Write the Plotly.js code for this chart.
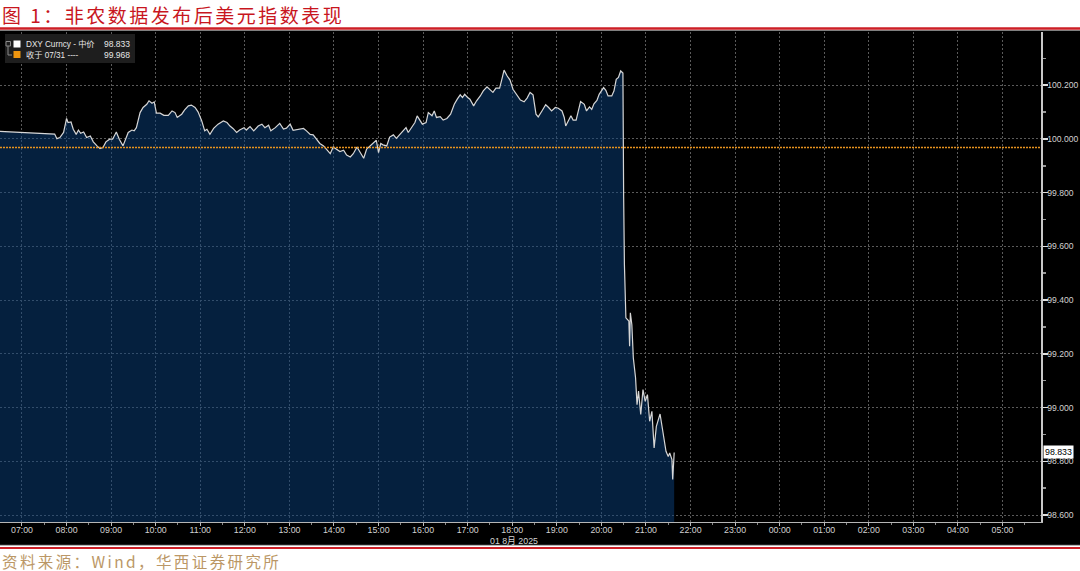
<!DOCTYPE html>
<html>
<head>
<meta charset="utf-8">
<script src="https://cdn.plot.ly/plotly-3.0.1.min.js"></script>
<style>
  html, body { margin: 0; padding: 0; background: #ffffff; }
  #chart { width: 1080px; height: 571px; }
  #chart .annotation[data-index="0"] text { letter-spacing: 2.5px; }
  #chart .annotation[data-index="1"] text { letter-spacing: 2.4px; }
</style>
</head>
<body>
<div id="chart"></div>
<script>
// ---------------- DATA ----------------
const tradeDate = '2025-08-01';
const times = [
  '06:30','07:44','07:47','07:51','07:56','08:00','08:02','08:06','08:09','08:13',
  '08:16','08:19','08:23','08:27','08:32','08:36','08:41','08:45','08:49','08:53',
  '08:58','09:02','09:07','09:11','09:16','09:20','09:23','09:28','09:31','09:34',
  '09:39','09:43','09:48','09:51','09:55','09:58','10:01','10:06','10:11','10:17',
  '10:22','10:26','10:29','10:35','10:39','10:44','10:48','10:53','10:57','11:02',
  '11:06','11:09','11:13','11:18','11:24','11:31','11:36','11:40','11:44','11:49',
  '11:53','11:59','12:02','12:07','12:12','12:18','12:23','12:27','12:32','12:35',
  '12:41','12:47','12:52','12:56','13:01','13:05','13:12','13:19','13:23','13:28',
  '13:32','13:37','13:41','13:46','13:50','13:55','13:59','14:04','14:08','14:13',
  '14:17','14:22','14:26','14:31','14:35','14:40','14:44','14:49','14:53','14:57',
  '15:00','15:03','15:06','15:11','15:15','15:20','15:24','15:29','15:33','15:37',
  '15:40','15:45','15:49','15:52','15:56','15:59','16:04','16:07','16:12','16:15',
  '16:18','16:23','16:27','16:32','16:37','16:42','16:46','16:50','16:53','16:56',
  '17:00','17:03','17:08','17:12','17:17','17:21','17:26','17:30','17:34','17:38',
  '17:43','17:46','17:49','17:53','17:57','18:01','18:07','18:11','18:16','18:20',
  '18:24','18:28','18:32','18:35','18:40','18:45','18:49','18:53','18:58','19:02',
  '19:07','19:10','19:12','19:15','19:19','19:22','19:26','19:29','19:32','19:37',
  '19:40','19:44','19:47','19:50','19:54','19:57','20:00','20:03','20:06','20:09',
  '20:14','20:17','20:20','20:23','20:26','20:29','20:30','20:31','20:33','20:37',
  '20:38','20:39','20:41','20:43','20:46','20:48','20:50','20:53','20:56','20:59',
  '21:02','21:05','21:08','21:11','21:14','21:19','21:22','21:27','21:30','21:32',
  '21:35','21:36','21:38'
];
const dxyMid = [
  100.028,100.018,100.001,100.005,100.024,100.076,100.061,100.063,100.036,100.017,
  100.033,100.021,100.026,100.005,100.011,99.989,99.974,99.964,99.968,99.989,
  99.999,99.999,100.026,99.999,99.974,99.999,100.024,100.033,100.030,100.042,
  100.098,100.117,100.129,100.142,100.133,100.138,100.096,100.096,100.088,100.088,
  100.104,100.098,100.080,100.092,100.108,100.123,100.126,100.117,100.101,100.067,
  100.030,100.036,100.017,100.039,100.055,100.067,100.061,100.048,100.039,100.024,
  100.033,100.042,100.033,100.046,100.030,100.048,100.055,100.042,100.051,100.030,
  100.042,100.058,100.037,100.040,100.055,100.032,100.036,100.039,100.030,100.017,
  100.015,99.999,99.983,99.974,99.962,99.945,99.970,99.962,99.953,99.958,
  99.940,99.933,99.945,99.970,99.949,99.928,99.962,99.974,99.987,99.995,
  99.949,99.983,99.978,99.974,100.007,100.015,100.002,100.017,100.030,100.042,
  100.024,100.045,100.061,100.086,100.070,100.055,100.061,100.098,100.086,100.104,
  100.080,100.083,100.070,100.076,100.092,100.129,100.148,100.164,100.154,100.166,
  100.154,100.148,100.123,100.142,100.160,100.179,100.194,100.185,100.173,100.189,
  100.189,100.222,100.256,100.235,100.219,100.185,100.160,100.145,100.138,100.152,
  100.173,100.164,100.092,100.082,100.104,100.127,100.117,100.104,100.117,100.114,
  100.104,100.080,100.048,100.065,100.086,100.070,100.070,100.104,100.139,100.129,
  100.104,100.119,100.110,100.131,100.143,100.166,100.179,100.191,100.181,100.160,
  100.160,100.179,100.222,100.229,100.253,100.245,99.782,99.533,99.334,99.322,
  99.228,99.353,99.309,99.185,99.111,99.011,99.061,98.974,99.067,99.023,
  99.048,98.949,98.986,98.850,98.930,98.976,98.924,98.837,98.818,98.831,
  98.806,98.732,98.833
];
const refLabel = '收于 07/31 ----';
const refValue = 99.968;
const seriesLabel = 'DXY Curncy - 中价';
const lastValue = 98.833;
const dateLabel = '01 8月 2025';
const titleText = '图 1：非农数据发布后美元指数表现';
const sourceText = '资料来源：Wind，华西证券研究所';

// ---------------- LAYOUT HELPERS ----------------
const W = 1080, H = 571;
const M = {l: 0, r: 39, t: 32, b: 49};
const PW = W - M.l - M.r, PH = H - M.t - M.b;
const px = x => (x - M.l) / PW;
const py = y => (H - M.b - y) / PH;

const xRange = ['2025-08-01 06:30:24', '2025-08-02 05:51:50'];
const xs = times.map(t => tradeDate + ' ' + t);

const gridCol = '#5a5a5a';
const textCol = '#d2d2d2';
const baseFont = 'Liberation Sans, Arial, Noto Sans CJK SC, sans-serif';

const traces = [
  {
    type: 'scatter', mode: 'lines', x: xs, y: dxyMid,
    line: {color: '#d6d6d6', width: 1.2},
    fill: 'tozeroy', fillcolor: 'rgba(10,64,124,0.5)',
    hoverinfo: 'skip', showlegend: false
  },
  {
    type: 'scatter', mode: 'lines', x: xRange, y: [refValue, refValue],
    line: {color: '#e8921e', width: 1.5, dash: '2px,1px'},
    hoverinfo: 'skip', showlegend: false
  }
];

const shapes = [
  {type: 'rect', xref: 'paper', yref: 'paper', x0: px(0), x1: px(W), y0: py(545), y1: py(30.5),
   fillcolor: '#000000', line: {width: 0}, layer: 'below'},
  {type: 'line', xref: 'paper', yref: 'paper', x0: px(0), x1: px(W), y0: py(28.5), y1: py(28.5),
   line: {color: '#cc1f26', width: 2.5}},
  {type: 'line', xref: 'paper', yref: 'paper', x0: px(0), x1: px(W), y0: py(545.3), y1: py(545.3),
   line: {color: '#a0a0a0', width: 1}},
  {type: 'line', xref: 'paper', yref: 'paper', x0: px(0), x1: px(W), y0: py(548), y1: py(548),
   line: {color: '#cc1f26', width: 2.2}},
  // legend panel
  {type: 'rect', xref: 'paper', yref: 'paper', x0: px(5), x1: px(135), y0: py(63), y1: py(34),
   fillcolor: '#1e1e1e', line: {width: 0}, layer: 'above'},
  {type: 'rect', xref: 'paper', yref: 'paper', x0: px(6), x1: px(10.5), y0: py(46), y1: py(41.5),
   fillcolor: 'rgba(0,0,0,0)', line: {color: '#8a8a8a', width: 1}, layer: 'above'},
  {type: 'path', xref: 'paper', yref: 'paper',
   path: 'M' + px(8) + ',' + py(46) + ' L' + px(8) + ',' + py(55) + ' L' + px(12) + ',' + py(55),
   line: {color: '#8a8a8a', width: 1}, layer: 'above'},
  {type: 'rect', xref: 'paper', yref: 'paper', x0: px(13.5), x1: px(20.5), y0: py(47.5), y1: py(40.5),
   fillcolor: '#ffffff', line: {width: 0}, layer: 'above'},
  {type: 'rect', xref: 'paper', yref: 'paper', x0: px(13.5), x1: px(20.5), y0: py(58), y1: py(51),
   fillcolor: '#f0960f', line: {width: 0}, layer: 'above'}
];

const ann = (text, x, y, xanchor, size, color, extra) => Object.assign({
  text: text, xref: 'paper', yref: 'paper', x: px(x), y: py(y),
  xanchor: xanchor, yanchor: 'middle', align: xanchor === 'right' ? 'right' : 'left',
  showarrow: false, borderpad: 0, font: {family: baseFont, size: size, color: color}
}, extra || {});

const annotations = [
  ann(titleText, 1, 14, 'left', 19, '#c8161e', {font: {family: 'Noto Sans CJK SC, sans-serif', size: 19, color: '#c8161e'}}),
  ann(sourceText, 1, 561, 'left', 15.5, '#bb9766', {font: {family: 'Noto Sans CJK SC, sans-serif', size: 15.5, color: '#bb9766'}}),
  ann(seriesLabel, 24.5, 44, 'left', 8.2, '#e6e6e6'),
  ann(dxyMid[dxyMid.length - 1].toFixed(3), 131, 44, 'right', 8.5, '#e6e6e6'),
  ann(refLabel, 24.5, 55, 'left', 8.2, '#e6e6e6'),
  ann(refValue.toFixed(3), 131, 55, 'right', 8.5, '#e6e6e6'),
  ann(dateLabel, 539, 541, 'right', 8.8, textCol),
  {text: lastValue.toFixed(3), xref: 'paper', yref: 'y', x: 1, y: lastValue,
   xanchor: 'left', yanchor: 'middle', xshift: 2, showarrow: false,
   bgcolor: '#ffffff', borderpad: 1,
   font: {family: baseFont, size: 8.8, color: '#000000'}}
];

const layout = {
  width: W, height: H,
  margin: M,
  paper_bgcolor: '#ffffff',
  plot_bgcolor: '#000000',
  showlegend: false,
  xaxis: {
    type: 'date', range: xRange,
    tick0: '2025-08-01 00:00', dtick: 3600000, tickformat: '%H:%M',
    showgrid: true, gridcolor: gridCol, griddash: '2px,2px', gridwidth: 1,
    ticks: 'outside', ticklen: 3, tickcolor: '#bbbbbb', tickwidth: 1,
    ticklabelstandoff: -4,
    minor: {dtick: 1800000, ticks: 'outside', ticklen: 2, tickcolor: '#888888', showgrid: false},
    showline: true, linecolor: '#b5b5b5', linewidth: 1,
    tickfont: {family: baseFont, size: 8.8, color: textCol},
    zeroline: false, fixedrange: true
  },
  yaxis: {
    side: 'right', range: [98.574, 100.398],
    tick0: 98.6, dtick: 0.2, tickformat: '.3f',
    showgrid: true, gridcolor: gridCol, griddash: '2px,2px', gridwidth: 1,
    ticks: 'outside', ticklen: 5, tickwidth: 1.5, tickcolor: '#e0e0e0',
    ticklabelstandoff: -2,
    minor: {dtick: 0.1, ticks: 'outside', ticklen: 3, tickcolor: '#999999', showgrid: false},
    showline: true, linecolor: '#c8c8c8', linewidth: 1.5,
    tickfont: {family: baseFont, size: 8.6, color: textCol},
    zeroline: false, fixedrange: true
  },
  shapes: shapes,
  annotations: annotations
};

Plotly.newPlot('chart', traces, layout, {displayModeBar: false, staticPlot: true});
</script>
</body>
</html>
